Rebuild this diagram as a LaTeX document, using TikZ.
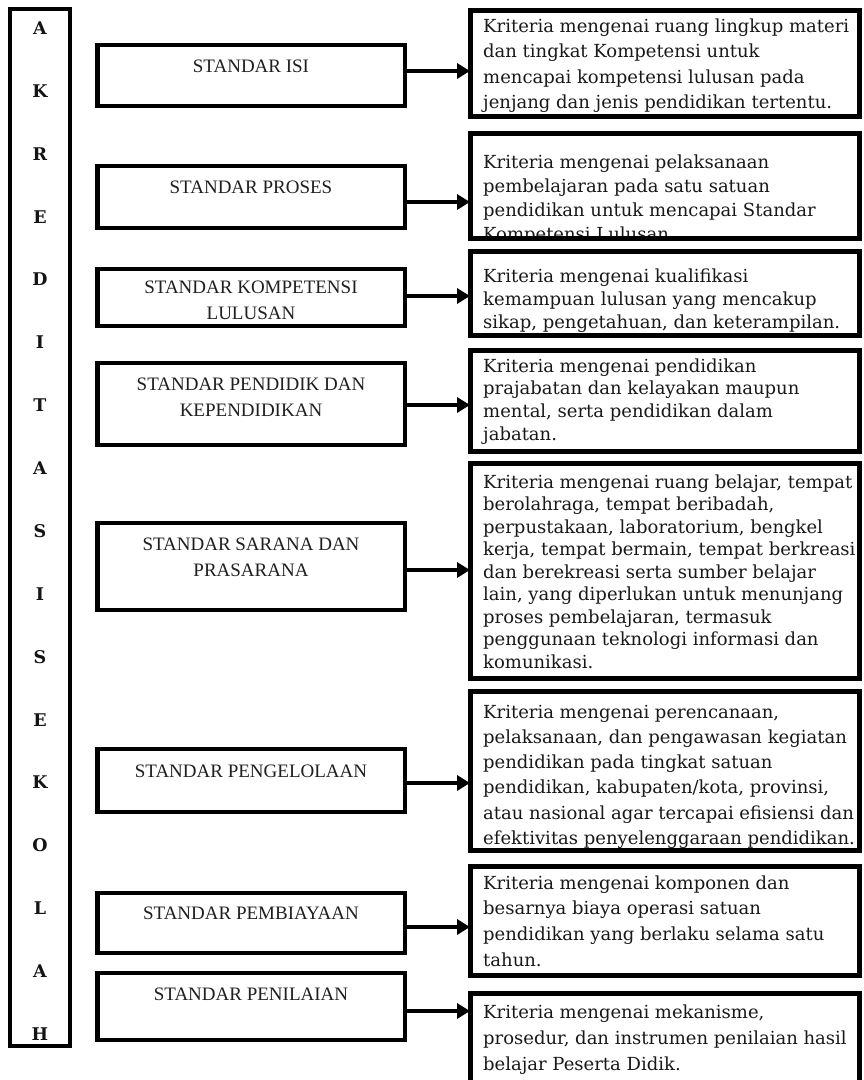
\documentclass[tikz,border=0pt]{standalone}
\usepackage{fontspec}
\usetikzlibrary{arrows.meta,fit}
\newfontfamily\critfont{DejaVu Serif}
\newfontfamily\stdfont{Liberation Serif}
\newfontfamily\colfont{DejaVu Serif}

\tikzset{
  colframe/.style={draw=black, line width=4.5pt, inner sep=0pt, outer sep=0pt},
  colletter/.style={inner sep=0pt, font=\colfont\bfseries\fontsize{17.5}{20}\selectfont, text=black!92},
  stdbox/.style={draw=black, line width=4.5pt, inner sep=0pt, outer sep=0pt},
  stdlabel/.style={inner sep=0pt, align=center, anchor=north, text=black!88,
    font=\stdfont\fontsize{19}{26}\selectfont},
  critarea/.style={inner sep=0pt, outer sep=0pt},
  critline/.style={draw=black, line width=5pt},
  crittext/.style={inner sep=0pt, align=left, anchor=north west, text=black!90},
  link/.style={draw=black, line width=4.5pt, -{Triangle[length=13pt,width=15pt]}}
}

% standard box: name, top, bottom
\newcommand\stdbx[3]{\node[stdbox, fit={(97.5,#2) (405,#3)}] (#1) {};}
% standard caption: name, first baseline, text
\newcommand\stdcap[3]{\node[stdlabel] (#1) at (251,{#2-18.2}) {\strut #3};}
% criteria box: name, top, bottom, first baseline, line pitch, text
\newcommand\critbx[6]{%
  \node[critarea, fit={(470,#2) (859,#3)}] (#1) {};
  \begin{scope}
    \clip (#1.north west) rectangle (#1.south east);
    \node[crittext, font={\critfont\fontsize{18}{#5}\selectfont}]
      (#1txt) at (483,{#4-0.7*#5}) {\strut #6};
  \end{scope}
  \draw[critline] (#1.north west) rectangle (#1.south east);
}

\begin{document}
\begin{tikzpicture}[x=1pt,y=-1pt]
\useasboundingbox (0,0) rectangle (863,1080);
\fill[white] (0,0) rectangle (863,1080);
\clip (0,0) rectangle (863,1080);

% vertical title column
\node[colframe, fit={(10,9) (70,1046)}] (col) {};
\foreach \ch [count=\i from 0] in {A,K,R,E,D,I,T,A,S,I,S,E,K,O,L,A,H}
  \node[colletter] (let\i) at (40,{28+62.875*\i}) {\ch};

% the eight standards
\stdbx{b1}{45}{106}   \stdcap{c1}{72}{STANDAR ISI}
\stdbx{b2}{166}{228}  \stdcap{c2}{193}{STANDAR PROSES}
\stdbx{b3}{269}{326}  \stdcap{c3}{293}{STANDAR KOMPETENSI\\LULUSAN}
\stdbx{b4}{363}{445}  \stdcap{c4}{390}{STANDAR PENDIDIK DAN\\KEPENDIDIKAN}
\stdbx{b5}{523}{610}  \stdcap{c5}{550}{STANDAR SARANA DAN\\PRASARANA}
\stdbx{b6}{749}{812}  \stdcap{c6}{777}{STANDAR PENGELOLAAN}
\stdbx{b7}{893}{953}  \stdcap{c7}{919}{STANDAR PEMBIAYAAN}
\stdbx{b8}{973}{1040} \stdcap{c8}{1000}{STANDAR PENILAIAN}

% criteria descriptions
\critbx{r1}{10}{116}{32}{25.5}{Kriteria mengenai ruang lingkup materi\\dan tingkat Kompetensi untuk\\mencapai kompetensi lulusan pada\\jenjang dan jenis pendidikan tertentu.}
\critbx{r2}{133}{238}{168}{24}{Kriteria mengenai pelaksanaan\\pembelajaran pada satu satuan\\pendidikan untuk mencapai Standar\\Kompetensi Lulusan}
\critbx{r3}{251}{335}{282}{23}{Kriteria mengenai kualifikasi\\kemampuan lulusan yang mencakup\\sikap, pengetahuan, dan keterampilan.}
\critbx{r4}{350}{451}{372}{22.7}{Kriteria mengenai pendidikan\\prajabatan dan kelayakan maupun\\mental, serta pendidikan dalam\\jabatan.}
\critbx{r5}{463}{678}{488}{22.5}{Kriteria mengenai ruang belajar, tempat\\berolahraga, tempat beribadah,\\perpustakaan, laboratorium, bengkel\\kerja, tempat bermain, tempat berkreasi\\dan berekreasi serta sumber belajar\\lain, yang diperlukan untuk menunjang\\proses pembelajaran, termasuk\\penggunaan teknologi informasi dan\\komunikasi.}
\critbx{r6}{691}{850}{718}{25.2}{Kriteria mengenai perencanaan,\\pelaksanaan, dan pengawasan kegiatan\\pendidikan pada tingkat satuan\\pendidikan, kabupaten/kota, provinsi,\\atau nasional agar tercapai efisiensi dan\\efektivitas penyelenggaraan pendidikan.}
\critbx{r7}{866}{975}{889}{25.7}{Kriteria mengenai komponen dan\\besarnya biaya operasi satuan\\pendidikan yang berlaku selama satu\\tahun.}
\critbx{r8}{993}{1100}{1018}{26}{Kriteria mengenai mekanisme,\\prosedur, dan instrumen penilaian hasil\\belajar Peserta Didik.}

% connectors
\draw[link] (b1.east |- 0,71)   -- (r1.west |- 0,71);
\draw[link] (b2.east |- 0,202)  -- (r2.west |- 0,202);
\draw[link] (b3.east |- 0,296)  -- (r3.west |- 0,296);
\draw[link] (b4.east |- 0,405)  -- (r4.west |- 0,405);
\draw[link] (b5.east |- 0,570)  -- (r5.west |- 0,570);
\draw[link] (b6.east |- 0,783)  -- (r6.west |- 0,783);
\draw[link] (b7.east |- 0,927)  -- (r7.west |- 0,927);
\draw[link] (b8.east |- 0,1011) -- (r8.west |- 0,1011);
\end{tikzpicture}
\end{document}
